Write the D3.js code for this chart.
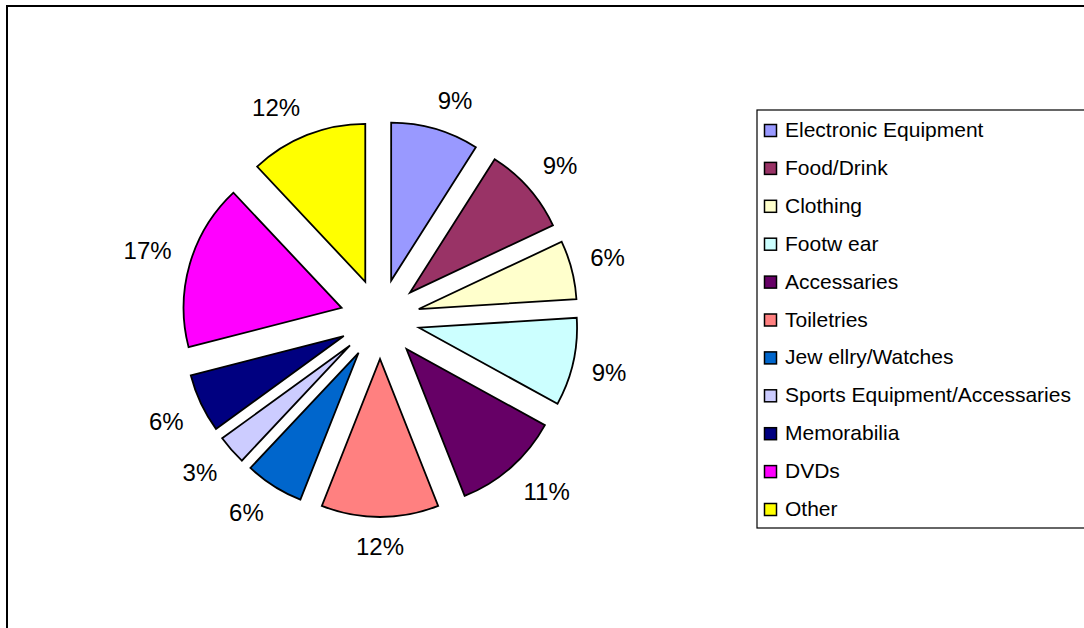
<!DOCTYPE html>
<html>
<head>
<meta charset="utf-8">
<script src="https://cdn.jsdelivr.net/npm/d3@7"></script>
<style>
  html, body { margin: 0; padding: 0; background: #fff; }
  svg { display: block; font-family: "Liberation Sans", Arial, sans-serif; }
</style>
</head>
<body>
<svg id="chart" width="1084" height="628"></svg>
<script>
// Share of items by category (percent)
const categories = [
  "Electronic Equipment", "Food/Drink", "Clothing", "Footw ear", "Accessaries",
  "Toiletries", "Jew ellry/Watches", "Sports Equipment/Accessaries",
  "Memorabilia", "DVDs", "Other"
];
const shares = [9, 9, 6, 9, 11, 12, 6, 3, 6, 17, 12];
const palette = [
  "#9999FF", "#993366", "#FFFFCC", "#CCFFFF", "#660066",
  "#FF8080", "#0066CC", "#CCCCFF", "#000080", "#FF00FF", "#FFFF00"
];

const data = categories.map((c, i) => ({ category: c, value: shares[i], color: palette[i] }));

const svg = d3.select("#chart");
const W = 1084, H = 628;

// Chart frame (runs off the right and bottom edges)
svg.append("rect")
  .attr("x", 7).attr("y", 6)
  .attr("width", W + 20).attr("height", H + 20)
  .attr("fill", "#fff").attr("stroke", "#000").attr("stroke-width", 2);

const cx = 380, cy = 319;
const radius = 158;
const explode = 40;
const labelGap = 19;

const pie = d3.pie().value(d => d.value).sort(null).startAngle(0).endAngle(2 * Math.PI);
const arc = d3.arc().innerRadius(0).outerRadius(radius);
const arcs = pie(data);

const g = svg.append("g").attr("transform", `translate(${cx},${cy})`);

const mid = d => (d.startAngle + d.endAngle) / 2;

g.selectAll("path.slice")
  .data(arcs)
  .enter().append("path")
  .attr("class", "slice")
  .attr("d", arc)
  .attr("transform", d => {
    const a = mid(d);
    return `translate(${explode * Math.sin(a)},${-explode * Math.cos(a)})`;
  })
  .attr("fill", d => d.data.color)
  .attr("stroke", "#000")
  .attr("stroke-width", 1.8)
  .attr("stroke-linejoin", "miter");

// Percentage labels: text box sits just outside the midpoint of each exploded slice's rim
const labels = g.selectAll("text.pct")
  .data(arcs)
  .enter().append("text")
  .attr("class", "pct")
  .attr("text-anchor", "middle")
  .attr("dominant-baseline", "central")
  .attr("font-size", 24)
  .attr("fill", "#000")
  .text(d => d3.format(".0%")(d.data.value / d3.sum(shares)));

labels.each(function(d) {
  const bb = this.getBBox();
  const a = mid(d);
  const s = Math.sin(a), c = -Math.cos(a);
  const rim = radius + explode;
  const halfW = bb.width / 2, halfH = 10;
  const ax = Math.sign(s) * Math.min(1, 3 * Math.abs(s)) * halfW;
  const ay = Math.sign(c) * Math.min(1, 3 * Math.abs(c)) * halfH;
  d3.select(this)
    .attr("x", rim * s + labelGap * s + ax)
    .attr("y", rim * c + labelGap * c + ay);
});

// Legend
const legX = 757, legY = 110, legH = 418;
svg.append("rect")
  .attr("x", legX).attr("y", legY)
  .attr("width", 400).attr("height", legH)
  .attr("fill", "#fff").attr("stroke", "#000").attr("stroke-width", 1.2);

const rowScale = d3.scalePoint()
  .domain(categories)
  .range([130.5, 509.5]);

const rows = svg.selectAll("g.leg")
  .data(data)
  .enter().append("g")
  .attr("class", "leg")
  .attr("transform", d => `translate(0,${rowScale(d.category)})`);

rows.append("rect")
  .attr("x", 764.5).attr("y", -6)
  .attr("width", 12).attr("height", 12)
  .attr("fill", d => d.color)
  .attr("stroke", "#000").attr("stroke-width", 1.5);

rows.append("text")
  .attr("x", 785).attr("y", 6.5)
  .attr("font-size", 21)
  .attr("fill", "#000")
  .text(d => d.category);
</script>
</body>
</html>
